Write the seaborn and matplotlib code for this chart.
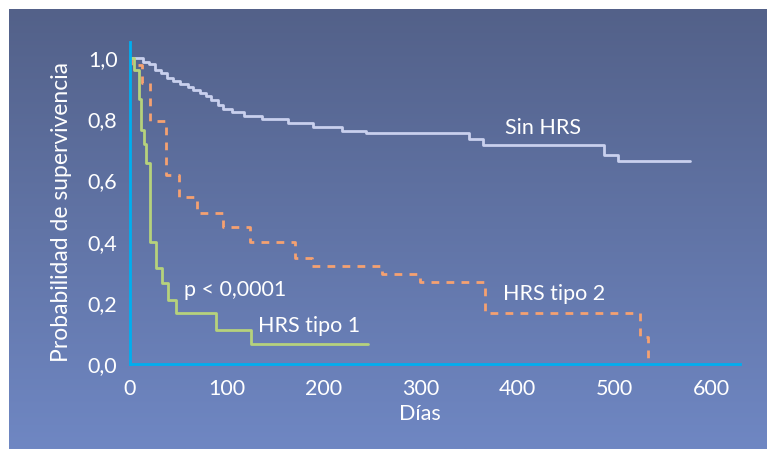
import numpy as np
import matplotlib
matplotlib.use("Agg")
import matplotlib.pyplot as plt
import pandas as pd
import seaborn as sns

# Kaplan-Meier steps (dias, supervivencia)
sin_dias = [0, 13, 20, 26, 32, 38, 44, 52, 60, 65, 72, 78, 84, 91, 96, 105, 118, 136, 163, 189, 219, 244, 350, 365, 490, 504, 578]
sin_surv = [1.0, 0.989, 0.980, 0.961, 0.953, 0.935, 0.924, 0.915, 0.907, 0.896, 0.886, 0.877, 0.864, 0.847, 0.834, 0.823, 0.812, 0.800, 0.787, 0.774, 0.763, 0.755, 0.735, 0.715, 0.684, 0.665, 0.665]

tipo2_dias = [0, 1, 12, 21, 37, 51, 69, 96, 124, 170, 188, 260, 299, 367, 527, 535]
tipo2_surv = [1.0, 0.978, 0.918, 0.795, 0.618, 0.545, 0.493, 0.448, 0.400, 0.346, 0.321, 0.294, 0.267, 0.168, 0.087, 0.0]

tipo1_dias = [0, 4, 9, 11, 14, 17, 21, 27, 33, 39, 48, 89, 125, 246]
tipo1_surv = [1.0, 0.962, 0.867, 0.765, 0.720, 0.656, 0.398, 0.315, 0.265, 0.208, 0.166, 0.112, 0.064, 0.064]

x_ticks = [0, 100, 200, 300, 400, 500, 600]
y_ticks = [0.0, 0.2, 0.4, 0.6, 0.8, 1.0]
y_labels = ["0,0", "0,2", "0,4", "0,6", "0,8", "1,0"]

sns.set_style("white")
plt.rcParams['font.family'] = ['Lato', 'DejaVu Sans']

fig = plt.figure(figsize=(7.67, 4.5), dpi=100)
fig.patch.set_facecolor("white")

# blue gradient panel behind the chart
bg = fig.add_axes([9 / 767, 1 / 450, 758 / 767, 440 / 450], zorder=0)
grad = np.linspace(0, 1, 256).reshape(-1, 1)
cmap = matplotlib.colors.LinearSegmentedColormap.from_list("bg", ["#536189", "#6f87c3"])
bg.imshow(grad, aspect="auto", cmap=cmap, extent=[0, 1, 0, 1])
bg.axis("off")

ax = fig.add_axes([130 / 767, (450 - 364) / 450, 610 / 767, 322 / 450], zorder=1)
ax.patch.set_alpha(0)

white = "#c9d0ee"
orange = "#f5a171"
green = "#b6d27c"
cyan = "#00aeef"

sns.lineplot(x=sin_dias, y=sin_surv, ax=ax, color=white, lw=2, drawstyle="steps-post", estimator=None)
sns.lineplot(x=tipo2_dias, y=tipo2_surv, ax=ax, color=orange, lw=2, drawstyle="steps-post",
             estimator=None, dashes=False)
ax.lines[-1].set_dashes((2.8, 2.6))
sns.lineplot(x=tipo1_dias, y=tipo1_surv, ax=ax, color=green, lw=2, drawstyle="steps-post", estimator=None)

ax.set_xlim(0, 630)
ax.set_ylim(0, 1.053)
ax.set_xticks(x_ticks)
ax.set_yticks(y_ticks)
ax.set_yticklabels(y_labels)
for s in ["top", "right"]:
    ax.spines[s].set_visible(False)
for s in ["left", "bottom"]:
    ax.spines[s].set_color(cyan)
    ax.spines[s].set_linewidth(2)
ax.tick_params(axis="both", colors=cyan, labelcolor="white", labelsize=15.5, length=6, width=2, direction="out")
ax.tick_params(axis="y", pad=3)
ax.tick_params(axis="x", pad=5)
ax.set_xlabel("")
ax.set_ylabel("")

txt = dict(color="white", fontsize=15.5, va="center", ha="left")
ax.text(387, 0.772, "Sin HRS", **txt)
ax.text(385, 0.229, "HRS tipo 2", **txt)
ax.text(132, 0.124, "HRS tipo 1", **txt)
ax.text(56, 0.242, "p < 0,0001", **txt)

fig.text(62 / 767, 1 - 212 / 450, "Probabilidad de supervivencia", rotation=90,
         color="white", fontsize=16.5, ha="center", va="center")
fig.text(420 / 767, 1 - 414 / 450, "Días", color="white", fontsize=15.5, ha="center", va="center")

fig.savefig("out.png", dpi=100)
